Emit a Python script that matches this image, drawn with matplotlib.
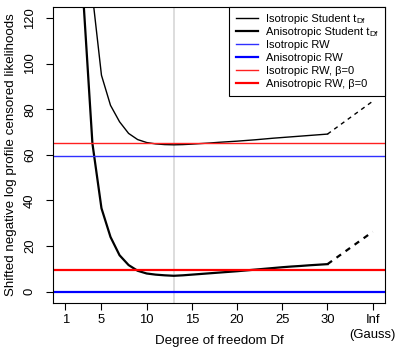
import matplotlib
matplotlib.use("Agg")
import matplotlib.pyplot as plt
from matplotlib.patches import Rectangle
import numpy as np

plt.rcParams['font.family'] = ['Liberation Sans', 'DejaVu Sans']

# degrees of freedom 1..30, plus the Gaussian limit (Inf)
df = list(range(1, 31))
iso_student = [400, 300, 200, 130, 94.9, 81.7, 74.5, 69.4, 66.7, 65.4,
               64.8, 64.5, 64.4, 64.5, 64.7, 64.95, 65.2, 65.5, 65.75, 66.0,
               66.3, 66.6, 66.95, 67.3, 67.6, 67.9, 68.2, 68.5, 68.8, 69.1]
aniso_student = [400, 300, 128, 65, 36.6, 24, 16, 11.7, 9.2, 8.0,
                 7.5, 7.2, 7.0, 7.2, 7.5, 7.8, 8.1, 8.4, 8.7, 9.0,
                 9.35, 9.7, 10.05, 10.4, 10.75, 11.05, 11.3, 11.6, 11.85, 12.1]
iso_gauss = 83.5
aniso_gauss = 26.3
iso_rw = 59.4
aniso_rw = 0.0
iso_rw_b0 = 65.4
aniso_rw_b0 = 9.4
best_df = 13

xticks = [1, 5, 10, 15, 20, 25, 30, 35]
xticklabels = ['1', '5', '10', '15', '20', '25', '30', 'Inf\n(Gauss)']
inf_pos = 35

fig = plt.figure(figsize=(3.98, 3.5), dpi=100)
ax = fig.add_axes([53/398, 1-302.7/350, 332/398, 295.7/350])

thin, thick = 1.0, 1.6
ax.axvline(best_df, color='#d3d3d3', lw=1.1, zorder=1)
ax.plot(df, iso_student, color='black', lw=thin, label='Isotropic Student t')
ax.plot(df, aniso_student, color='black', lw=thick, label='Anisotropic Student t')
ax.plot([df[-1], inf_pos], [iso_student[-1], iso_gauss], color='black', lw=thin, ls=(0, (3, 3)))
ax.plot([df[-1], inf_pos], [aniso_student[-1], aniso_gauss], color='black', lw=thick, ls=(0, (2.5, 2.5)))
ax.axhline(iso_rw, color='#3030ff', lw=thin, label='Isotropic RW')
ax.axhline(aniso_rw, color='blue', lw=thick, label='Anisotropic RW')
ax.axhline(iso_rw_b0, color='#ff2020', lw=thin, label='Isotropic RW, β=0')
ax.axhline(aniso_rw_b0, color='red', lw=thick, label='Anisotropic RW, β=0')

ax.set_xlim(1 - 0.04*34, 35 + 0.04*34)
ax.set_ylim(-4.8, 124.8)
ax.set_xticks(xticks)
ax.set_xticklabels(xticklabels, fontsize=9.4, linespacing=1.3, va='top')
ax.set_yticks([0, 20, 40, 60, 80, 100, 120])
ax.set_yticklabels(['0', '20', '40', '60', '80', '100', '120'], fontsize=9.4,
                   rotation=90, va='center')
ax.tick_params(axis='x', length=5.3, width=0.8, pad=3)
ax.tick_params(axis='y', length=5.3, width=0.8, pad=7)
for s in ax.spines.values():
    s.set_linewidth(0.8)

ax.set_xlabel('Degree of freedom Df', fontsize=9.6)
ax.xaxis.set_label_coords(0.5, -0.109)
ax.set_ylabel('Shifted negative log profile censored likelihoods', fontsize=9.6)
ax.yaxis.set_label_coords(-0.107, 0.5)

# legend without frame, shifted left to leave room for the "Df" subscripts;
# a white box is drawn behind it up to the plot's right edge
leg = ax.legend(loc='upper right', bbox_to_anchor=(0.975, 1.0), fontsize=8,
                frameon=False, borderaxespad=0,
                handlelength=1.93, handletextpad=0.75, labelspacing=0.26,
                borderpad=0.65)
leg.set_zorder(5)

for t in leg.get_texts()[:2]:
    ax.annotate('Df', xy=(1, 0.13), xycoords=t, fontsize=6, ha='left',
                va='baseline', zorder=6, annotation_clip=False)

fig.canvas.draw()
bb = leg.get_window_extent().transformed(ax.transAxes.inverted())
ax.add_patch(Rectangle((bb.x0, bb.y0), 1 - bb.x0, 1 - bb.y0, transform=ax.transAxes,
                       facecolor='white', edgecolor='black', lw=0.8, zorder=4.9,
                       clip_on=False))

fig.savefig('out.png', dpi=100)
